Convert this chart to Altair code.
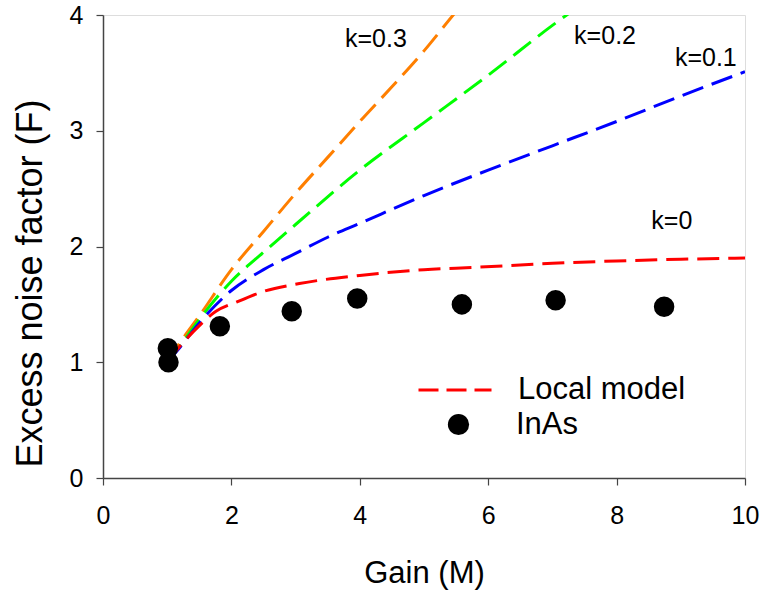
import altair as alt
import pandas as pd

# ---- data ----
k0_M = [1.0, 1.2, 1.4, 1.76, 2.08, 2.49, 3.06, 4.0, 5.0, 5.8, 7.0, 8.0, 9.0, 10.0]
k0_F = [1.0, 1.14, 1.26, 1.44, 1.52, 1.61, 1.68, 1.75, 1.80, 1.82, 1.855, 1.875, 1.89, 1.90]

k1_M = [1.0, 1.2, 1.5, 2.0, 2.5, 3.0, 3.5, 4.0, 5.0, 6.0, 7.0, 8.0, 9.0, 10.0]
k1_F = [1.0, 1.13, 1.34, 1.62, 1.80, 1.94, 2.08, 2.20, 2.44, 2.66, 2.87, 3.08, 3.30, 3.51]

k2_M = [1.0, 1.2, 1.5, 2.0, 2.5, 3.0, 4.0, 5.0, 6.0, 7.0, 7.5]
k2_F = [1.0, 1.14, 1.37, 1.70, 1.95, 2.19, 2.66, 3.07, 3.48, 3.91, 4.11]

k3_M = [1.0, 1.2, 1.5, 2.0, 2.5, 3.0, 3.5, 4.0, 4.5, 5.0, 5.5, 6.0]
k3_F = [1.0, 1.17, 1.40, 1.80, 2.13, 2.46, 2.77, 3.08, 3.38, 3.69, 4.03, 4.35]

inas_M = [1.01, 1.02, 1.82, 2.94, 3.96, 5.59, 7.05, 8.74]
inas_F = [1.12, 1.00, 1.31, 1.44, 1.55, 1.50, 1.535, 1.48]

label_text = ["k=0.3", "k=0.2", "k=0.1", "k=0"]
label_M = [4.25, 7.82, 9.39, 8.86]
label_F = [3.79, 3.82, 3.63, 2.22]

FONT = "Liberation Sans"

xscale = alt.Scale(domain=[0, 10], nice=False, zero=False)
yscale = alt.Scale(domain=[0, 4], nice=False, zero=False)

xaxis = alt.Axis(values=[0, 2, 4, 6, 8, 10], title="Gain (M)", grid=False,
                 tickSize=7, labelPadding=18, labelFontSize=25, labelFont=FONT,
                 labelColor="#000", labelFlush=False, labelOverlap=False, labelBound=False,
                 titleFontSize=31, titleFont=FONT, titleFontWeight="normal",
                 titleColor="#000", titleBaseline="alphabetic", titleY=104, titleX=321,
                 domainColor="#444", tickColor="#444", domainWidth=1.5, tickWidth=1.2)
yaxis = alt.Axis(values=[0, 1, 2, 3, 4], title="Excess noise factor (F)", grid=False,
                 tickSize=7, labelPadding=13, labelFontSize=25, labelFont=FONT,
                 labelColor="#000", labelFlush=False, labelOverlap=False, labelBound=False,
                 titleFontSize=36, titleFont=FONT, titleFontWeight="normal",
                 titleColor="#000", titleAngle=-90, titleBaseline="alphabetic",
                 titleAlign="center", titleX=-62, titleY=268,
                 domainColor="#444", tickColor="#444", domainWidth=1.5, tickWidth=1.2)

DASH = [22, 9]


def curve(M, F, color):
    df = pd.DataFrame({"M": M, "F": F})
    return alt.Chart(df).mark_line(clip=True, strokeDash=DASH, strokeWidth=3,
                                   interpolate="monotone", color=color).encode(
        x=alt.X("M:Q", scale=xscale, axis=xaxis),
        y=alt.Y("F:Q", scale=yscale, axis=yaxis),
    )


orange = curve(k3_M, k3_F, "#ff7f00")
green = curve(k2_M, k2_F, "#00ff00")
blue = curve(k1_M, k1_F, "#0000ff")

red_df = pd.DataFrame({"M": k0_M, "F": k0_F, "series": ["Local model"] * len(k0_M)})
red = alt.Chart(red_df).mark_line(clip=True, strokeDash=DASH, strokeWidth=3,
                                  interpolate="monotone").encode(
    x=alt.X("M:Q", scale=xscale, axis=xaxis),
    y=alt.Y("F:Q", scale=yscale, axis=yaxis),
    color=alt.Color("series:N", scale=alt.Scale(domain=["Local model"], range=["#ff0000"]),
                    legend=alt.Legend(orient="none", legendX=314, legendY=337, title=None,
                                      padding=0, symbolType="stroke", symbolStrokeWidth=3,
                                      symbolDash=[20, 8], symbolSize=73 * 73,
                                      labelFontSize=31, labelFont=FONT, labelColor="#000",
                                      labelOffset=25, labelLimit=400)),
)

pts_df = pd.DataFrame({"M": inas_M, "F": inas_F, "name": ["InAs"] * len(inas_M)})
pts = alt.Chart(pts_df).mark_point(filled=True, size=420, opacity=1, color="#000").encode(
    x=alt.X("M:Q", scale=xscale, axis=xaxis),
    y=alt.Y("F:Q", scale=yscale, axis=yaxis),
    shape=alt.Shape("name:N", scale=alt.Scale(domain=["InAs"], range=["circle"]),
                    legend=alt.Legend(orient="none", legendX=340, legendY=394, title=None,
                                      padding=0, symbolSize=450, symbolFillColor="#000",
                                      symbolStrokeColor="#000", symbolOpacity=1,
                                      labelFontSize=31, labelFont=FONT, labelColor="#000",
                                      labelOffset=42, labelLimit=400)),
)

lab_df = pd.DataFrame({"M": label_M, "F": label_F, "t": label_text})
labels = alt.Chart(lab_df).mark_text(fontSize=25, font=FONT, color="#000",
                                     baseline="middle", align="center").encode(
    x=alt.X("M:Q", scale=xscale, axis=xaxis),
    y=alt.Y("F:Q", scale=yscale, axis=yaxis),
    text="t:N",
)

chart = alt.layer(orange, green, blue, red, pts, labels).properties(
    width=642, height=463,
    autosize=alt.AutoSizeParams(type="none"),
    padding={"left": 103, "top": 15, "right": 17, "bottom": 114},
).configure_view(stroke="#000", strokeWidth=1).configure(background="white")

chart.save("out.html", embed_options={"renderer": "svg", "actions": False})
